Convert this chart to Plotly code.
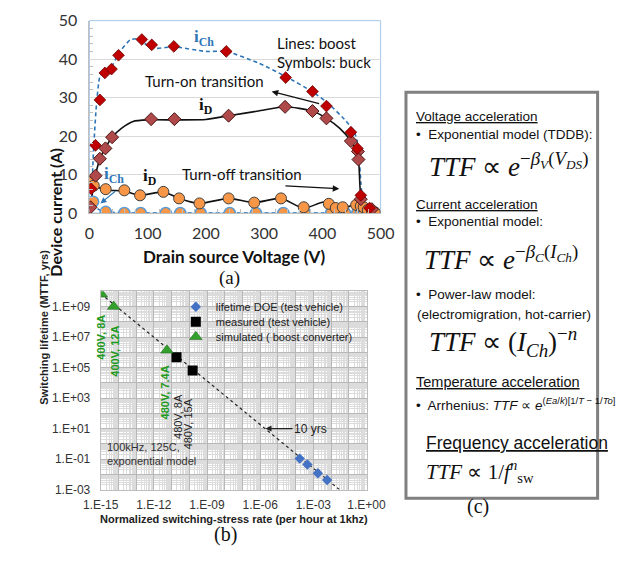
import plotly.graph_objects as go

W, H = 627, 572

# ---------------- (a) switching trajectories ----------------
# buck converter (symbols)
ich_on_v = [3, 10.6, 18, 26.5, 38, 50, 90, 107, 145, 235, 337, 383, 407, 449, 460, 466, 481]
ich_on_a = [6.3, 17.6, 29.4, 36.4, 37.4, 41, 45.1, 43.7, 43.3, 42, 35.2, 31.6, 27.8, 21, 16.8, 4.6, 1.3]

id_on_v = [2, 10.6, 18, 27.5, 39, 106, 146, 239, 336, 383, 407, 449, 461, 462, 466, 485]
id_on_a = [1.5, 9.7, 14.1, 16.8, 19.7, 24.4, 24.4, 25.3, 27.6, 26.5, 24.6, 18.7, 16, 13.9, 3.6, 1]

id_off_v = [0, 7.5, 28, 60, 87, 127, 154, 189, 239, 283, 329, 368, 411, 423, 435, 458, 466, 471, 478, 485, 490]
id_off_a = [8.0, 7.1, 6.2, 5.9, 4.6, 5.5, 3.8, 2.5, 3.8, 2.7, 3.8, 1.5, 2.4, 1.3, 1.5, 2.1, 1.8, 1.5, 0.8, 0.3, 0.2]

ich_off_v = [6.5, 28, 60, 88, 131, 156, 191, 241, 286, 333, 370, 415, 427, 439, 460, 466, 471, 478]
ich_off_a = [2.95, 0.3, 0, 0, 0, 0, 0, 0, 0, 0, 0, 0, 0, 0, 0.1, 0.1, 0.1, 0.1]

# boost converter (lines)
ich_on_line_v = [0, 4, 7, 12, 18, 26, 38, 50, 70, 85, 100, 115, 145, 200, 235, 290, 337, 383, 410, 440, 455, 462, 466, 470, 480, 490]
ich_on_line_a = [1.5, 6, 16, 28, 35.5, 37, 38, 41.5, 45, 45.3, 43.5, 42.8, 43.2, 42, 42, 39, 35.5, 31.5, 28.5, 24, 21, 17, 8, 3, 1, 0.5]

id_on_line_v = [0, 5, 10, 18, 27, 39, 55, 75, 100, 150, 200, 239, 290, 336, 383, 407, 430, 449, 460, 463, 465, 470, 480, 490]
id_on_line_a = [1, 5, 9.5, 14, 16.8, 19.7, 22, 23.8, 24.2, 24.2, 24.3, 25.3, 26.5, 27.6, 26.5, 24.6, 22, 18.7, 15.5, 12, 6, 2.5, 1, 0.3]

id_off_line_v = [0, 7, 29, 60, 87, 127, 154, 189, 239, 283, 329, 368, 400, 420, 440, 458, 470, 480, 490]
id_off_line_a = [8.3, 7.1, 6.0, 5.7, 4.6, 5.5, 3.8, 2.5, 3.8, 2.7, 3.8, 1.2, 2.8, 2.5, 1.5, 2.2, 1.5, 0.6, 0.2]

ich_off_line_v = [0, 6, 15, 28, 60, 150, 300, 400, 460, 480, 490]
ich_off_line_a = [8, 3, 1, 0.3, 0, 0, 0, 0, 0.2, 0.1, 0]

# ---------------- (b) lifetime vs stress rate ----------------
doe_rate = [1.7e-4, 4.6e-4, 1.8e-3, 6.0e-3]
doe_mttf = [1.07e-1, 4.4e-2, 1.17e-2, 4.2e-3]
meas_rate = [1.9e-11, 1.55e-10]
meas_mttf = [4.7e5, 6.3e4]
sim_rate = [1.1e-15, 5.4e-15, 5.5e-12]
sim_mttf = [6.5e9, 1.0e9, 1.35e6]
trend_rate = [1.0e-15, 2.9e-2]
trend_mttf = [7.1e9, 1.0e-3]

y_exp = list(range(-3, 11))
x_exp = list(range(-15, 1))


def sci(e):
    return "1.E%s%02d" % ("+" if e >= 0 else "-", abs(e))


y_ticktext = [sci(e) if e % 2 != 0 else "" for e in y_exp]
x_ticktext = [sci(e) if e % 3 == 0 else "" for e in x_exp]


def px(x):
    return x / W


def py(y):
    return 1 - y / H


CAL = "Lato"
ARIAL = "Liberation Sans"
SERIF = "Liberation Serif"

fig = go.Figure()

# boost lines
line_blue = dict(color="#2e75b6", width=1.6, dash="4px,3px", shape="spline", smoothing=0.5)
line_black = dict(color="#111111", width=1.6, shape="spline", smoothing=0.6)
fig.add_trace(go.Scatter(x=ich_on_line_v, y=ich_on_line_a, mode="lines", line=line_blue,
                         xaxis="x", yaxis="y", showlegend=False))
fig.add_trace(go.Scatter(x=ich_off_line_v, y=ich_off_line_a, mode="lines", line=line_blue,
                         xaxis="x", yaxis="y", showlegend=False))
fig.add_trace(go.Scatter(x=id_on_line_v, y=id_on_line_a, mode="lines", line=line_black,
                         xaxis="x", yaxis="y", showlegend=False))
fig.add_trace(go.Scatter(x=id_off_line_v, y=id_off_line_a, mode="lines", line=line_black,
                         xaxis="x", yaxis="y", showlegend=False))

# buck symbols
fig.add_trace(go.Scatter(x=ich_off_v, y=ich_off_a, mode="markers",
                         marker=dict(symbol="circle", size=11, color="#f79646",
                                     line=dict(color="#5b9bd5", width=1.5)),
                         xaxis="x", yaxis="y", showlegend=False))
fig.add_trace(go.Scatter(x=id_off_v, y=id_off_a, mode="markers",
                         marker=dict(symbol="circle", size=11, color="#f79646",
                                     line=dict(color="#404040", width=1)),
                         xaxis="x", yaxis="y", showlegend=False))
fig.add_trace(go.Scatter(x=id_on_v, y=id_on_a, mode="markers",
                         marker=dict(symbol="diamond", size=10, color="#b04a4a",
                                     line=dict(color="#4a1515", width=1)),
                         xaxis="x", yaxis="y", showlegend=False))
fig.add_trace(go.Scatter(x=ich_on_v, y=ich_on_a, mode="markers",
                         marker=dict(symbol="diamond", size=9, color="#c00000",
                                     line=dict(color="#6b0000", width=0.8)),
                         xaxis="x", yaxis="y", showlegend=False))

# (b) traces, one legend per entry so the rows sit close together
fig.add_trace(go.Scatter(x=trend_rate, y=trend_mttf, mode="lines",
                         line=dict(color="#222222", width=1.2, dash="3px,3px"),
                         xaxis="x2", yaxis="y2", showlegend=False))
fig.add_trace(go.Scatter(x=doe_rate, y=doe_mttf, mode="markers", name="lifetime DOE (test vehicle)",
                         marker=dict(symbol="diamond", size=8, color="#4472c4"),
                         xaxis="x2", yaxis="y2", legend="legend"))
fig.add_trace(go.Scatter(x=meas_rate, y=meas_mttf, mode="markers", name="measured (test vehicle)",
                         marker=dict(symbol="square", size=10, color="#000000"),
                         xaxis="x2", yaxis="y2", legend="legend2"))
fig.add_trace(go.Scatter(x=sim_rate, y=sim_mttf, mode="markers", name="simulated ( boost converter)",
                         marker=dict(symbol="triangle-up", size=11, color="#33a02c",
                                     line=dict(color="#1d5e1a", width=0.5)),
                         xaxis="x2", yaxis="y2", legend="legend3"))

ann = []

# ---- (a) labels ----
ann += [
    dict(x=px(28), y=py(140), xref="paper", yref="paper", text="<b>Device current (A)</b>",
         textangle=-90, showarrow=False, font=dict(family=CAL, size=16, color="#111")),
    dict(x=px(230), y=py(255), xref="paper", yref="paper", text="<b>Drain source Voltage (V)</b>",
         showarrow=False, font=dict(family=CAL, size=17, color="#111")),
    dict(x=px(225), y=py(277), xref="paper", yref="paper", text="(a)",
         showarrow=False, font=dict(family=SERIF, size=19, color="#111")),
    dict(x=px(274), y=py(23), xref="paper", yref="paper", text="Lines: boost", xanchor="left",
         showarrow=False, font=dict(family=CAL, size=15, color="#111")),
    dict(x=px(274), y=py(42), xref="paper", yref="paper", text="Symbols: buck", xanchor="left",
         showarrow=False, font=dict(family=CAL, size=15, color="#111")),
    dict(x=197, y=34.2, xref="x", yref="y", text="Turn-on transition",
         showarrow=False, font=dict(family=CAL, size=15, color="#111")),
    dict(x=262, y=10.1, xref="x", yref="y", text="Turn-off transition",
         showarrow=False, font=dict(family=CAL, size=15, color="#111")),
    dict(x=313, y=31.6, ax=397, ay=28.3, xref="x", yref="y", axref="x", ayref="y", text="",
         showarrow=True, arrowhead=2, arrowsize=1, arrowwidth=1.3, arrowcolor="#111"),
    dict(x=429, y=6.3, ax=334, ay=7.1, xref="x", yref="y", axref="x", ayref="y", text="",
         showarrow=True, arrowhead=2, arrowsize=1, arrowwidth=1.3, arrowcolor="#111"),
    dict(x=197, y=45.6, xref="x", yref="y", text="<b>i<sub>Ch</sub></b>",
         showarrow=False, font=dict(family=SERIF, size=17, color="#2e75b6")),
    dict(x=200, y=27.8, xref="x", yref="y", text="<b>i<sub>D</sub></b>",
         showarrow=False, font=dict(family=SERIF, size=17, color="#111")),
    dict(x=43, y=9.9, xref="x", yref="y", text="<b>i<sub>Ch</sub></b>",
         showarrow=False, font=dict(family=SERIF, size=17, color="#2e75b6")),
    dict(x=104, y=9.3, xref="x", yref="y", text="<b>i<sub>D</sub></b>",
         showarrow=False, font=dict(family=SERIF, size=17, color="#111")),
    dict(x=19, y=2.5, ax=47, ay=6, xref="x", yref="y", axref="x", ayref="y", text="",
         showarrow=True, arrowhead=2, arrowsize=1, arrowwidth=1.2, arrowcolor="#2e75b6"),
]

# ---- (b) labels ----
green = "#1f9a1f"
ann += [
    dict(x=px(19), y=py(410), xref="paper", yref="paper", text="<b>Switching lifetime (MTTF, yrs)</b>",
         textangle=-90, showarrow=False, font=dict(family=ARIAL, size=11, color="#222")),
    dict(x=px(230), y=py(535), xref="paper", yref="paper",
         text="<b>Normalized switching-stress rate (per hour at 1khz)</b>",
         showarrow=False, font=dict(family=ARIAL, size=11, color="#222")),
    dict(x=px(207), y=py(557), xref="paper", yref="paper", text="(b)",
         showarrow=False, font=dict(family=SERIF, size=20, color="#111")),
    dict(x=-14.95, y=7.0, xref="x2", yref="y2", text="<b>400V, 8A</b>", textangle=-90,
         showarrow=False, font=dict(family=ARIAL, size=11, color=green)),
    dict(x=-14.2, y=6.1, xref="x2", yref="y2", text="<b>400V, 12A</b>", textangle=-90,
         showarrow=False, font=dict(family=ARIAL, size=11, color=green)),
    dict(x=-11.4, y=3.4, xref="x2", yref="y2", text="<b>480V, 7.4A</b>", textangle=-90,
         showarrow=False, font=dict(family=ARIAL, size=11, color=green)),
    dict(x=-10.6, y=1.8, xref="x2", yref="y2", text="480V, 8A", textangle=-90,
         showarrow=False, font=dict(family=ARIAL, size=11, color="#222")),
    dict(x=-10.05, y=1.3, xref="x2", yref="y2", text="480V, 15A", textangle=-90,
         showarrow=False, font=dict(family=ARIAL, size=11, color="#222")),
    dict(x=-5.7, y=1.0, xref="x2", yref="y2", ax=45, ay=0, text="10 yrs",
         showarrow=True, arrowhead=2, arrowsize=1, arrowwidth=1.2, arrowcolor="#222",
         font=dict(family=ARIAL, size=12, color="#222")),
    dict(x=px(93), y=py(475), xref="paper", yref="paper", xanchor="left",
         text="100kHz, 125C,<br>exponential model", align="left",
         showarrow=False, font=dict(family=ARIAL, size=11, color="#333")),
]

# ---- (c) acceleration models ----
BOX_L = 421.7
c_items = [
    (BOX_L, 110, "<u>Voltage acceleration</u>", ARIAL, 13.5),
    (BOX_L, 129, "•  Exponential model (TDDB):", ARIAL, 13.5),
    (435, 160, "<i>TTF</i> ∝ <i>e</i><sup>−<i>β<sub>V</sub></i>(<i>V<sub>DS</sub></i>)</sup>", SERIF, 27),
    (BOX_L, 201, "<u>Current acceleration</u>", ARIAL, 13.5),
    (BOX_L, 219, "•  Exponential model:", ARIAL, 13.5),
    (430, 257, "<i>TTF</i> ∝ <i>e</i><sup>−<i>β<sub>C</sub></i>(<i>I<sub>Ch</sub></i>)</sup>", SERIF, 27),
    (BOX_L, 294, "•  Power-law model:", ARIAL, 13.5),
    (BOX_L + 1, 315, "(electromigration, hot-carrier)", ARIAL, 13.5),
    (435, 343, "<i>TTF</i> ∝ (<i>I<sub>Ch</sub></i>)<sup>−<i>n</i></sup>", SERIF, 27),
    (BOX_L, 385, "<u>Temperature acceleration</u>", ARIAL, 14.5),
    (BOX_L, 408, "•  Arrhenius: <i>TTF</i> ∝ <i>e</i><sup>(<i>Ea</i>/<i>k</i>)[1/<i>T</i> − 1/<i>To</i>]</sup>", ARIAL, 13.5),
    (431.7, 448, "<u>Frequency acceleration</u>", ARIAL, 17.5),
    (431.7, 477, "<i>TTF</i> ∝ 1/<i>f</i><sup><i>n</i></sup><sub>sw</sub>", SERIF, 21),
]
for xx, yy, txt, fam, sz in c_items:
    ann.append(dict(x=px(xx), y=py(yy), xref="paper", yref="paper", xanchor="left", yanchor="middle",
                    text=txt, showarrow=False, font=dict(family=fam, size=sz, color="#111")))
ann.append(dict(x=px(503), y=py(528), xref="paper", yref="paper", text="(c)",
                showarrow=False, font=dict(family=SERIF, size=20, color="#111")))

shapes = [
    # light-blue frame round the (a) plot area
    dict(type="rect", xref="x domain", yref="y domain", x0=0, x1=1, y0=0, y1=1,
         line=dict(color="#a9c8e8", width=1), layer="below"),
    # framed box of panel (c)
    dict(type="rect", xref="paper", yref="paper", x0=px(413), x1=px(617), y0=py(505), y1=py(85),
         line=dict(color="#808080", width=3)),
]

leg_common = dict(xanchor="left", yanchor="middle", bgcolor="rgba(255,255,255,0)",
                  font=dict(family=ARIAL, size=11, color="#222"), itemwidth=30)

fig.update_layout(
    width=W, height=H, margin=dict(l=0, r=0, t=0, b=0),
    paper_bgcolor="white", plot_bgcolor="white",
    annotations=ann, shapes=shapes,
    xaxis=dict(domain=[px(76), px(386)], range=[0, 500], dtick=100, anchor="y",
               showgrid=False, zeroline=False, showline=True, linecolor="#bfbfbf",
               ticks="", ticklabelstandoff=6, tickfont=dict(family=CAL, size=16, color="#333"),
               minor=dict(ticks="inside", dtick=20, ticklen=4, tickcolor="#bfbfbf")),
    yaxis=dict(domain=[py(210), py(11)], range=[0, 50], dtick=10, anchor="x",
               showgrid=True, gridcolor="#d9d9d9", zeroline=False, showline=True, linecolor="#bfbfbf",
               ticks="", ticklabelstandoff=8, tickfont=dict(family=CAL, size=16, color="#333"),
               minor=dict(ticks="inside", dtick=2, ticklen=4, tickcolor="#bfbfbf")),
    xaxis2=dict(domain=[px(88), px(371)], type="log", range=[-15, 0], anchor="y2",
                tickmode="array", tickvals=[10.0 ** e for e in x_exp], ticktext=x_ticktext,
                showgrid=True, gridcolor="#b8b8b8", zeroline=False, showline=True, mirror=True,
                linecolor="#bdbdbd", ticks="", ticklabelstandoff=4,
                tickfont=dict(family=ARIAL, size=12, color="#333"),
                minor=dict(dtick="D1", showgrid=True, gridcolor="#dcdcdc")),
    yaxis2=dict(domain=[py(496), py(291)], type="log", range=[-3, 10], anchor="x2",
                tickmode="array", tickvals=[10.0 ** e for e in y_exp], ticktext=y_ticktext,
                showgrid=True, gridcolor="#b8b8b8", zeroline=False, showline=True, mirror=True,
                linecolor="#bdbdbd", ticks="", ticklabelstandoff=7,
                tickfont=dict(family=ARIAL, size=12, color="#333"),
                minor=dict(dtick="D1", showgrid=True, gridcolor="#dcdcdc")),
    legend=dict(x=px(168), y=py(307), **leg_common),
    legend2=dict(x=px(168), y=py(322.5), **leg_common),
    legend3=dict(x=px(168), y=py(338), **leg_common),
)

fig.write_html("out.html")
